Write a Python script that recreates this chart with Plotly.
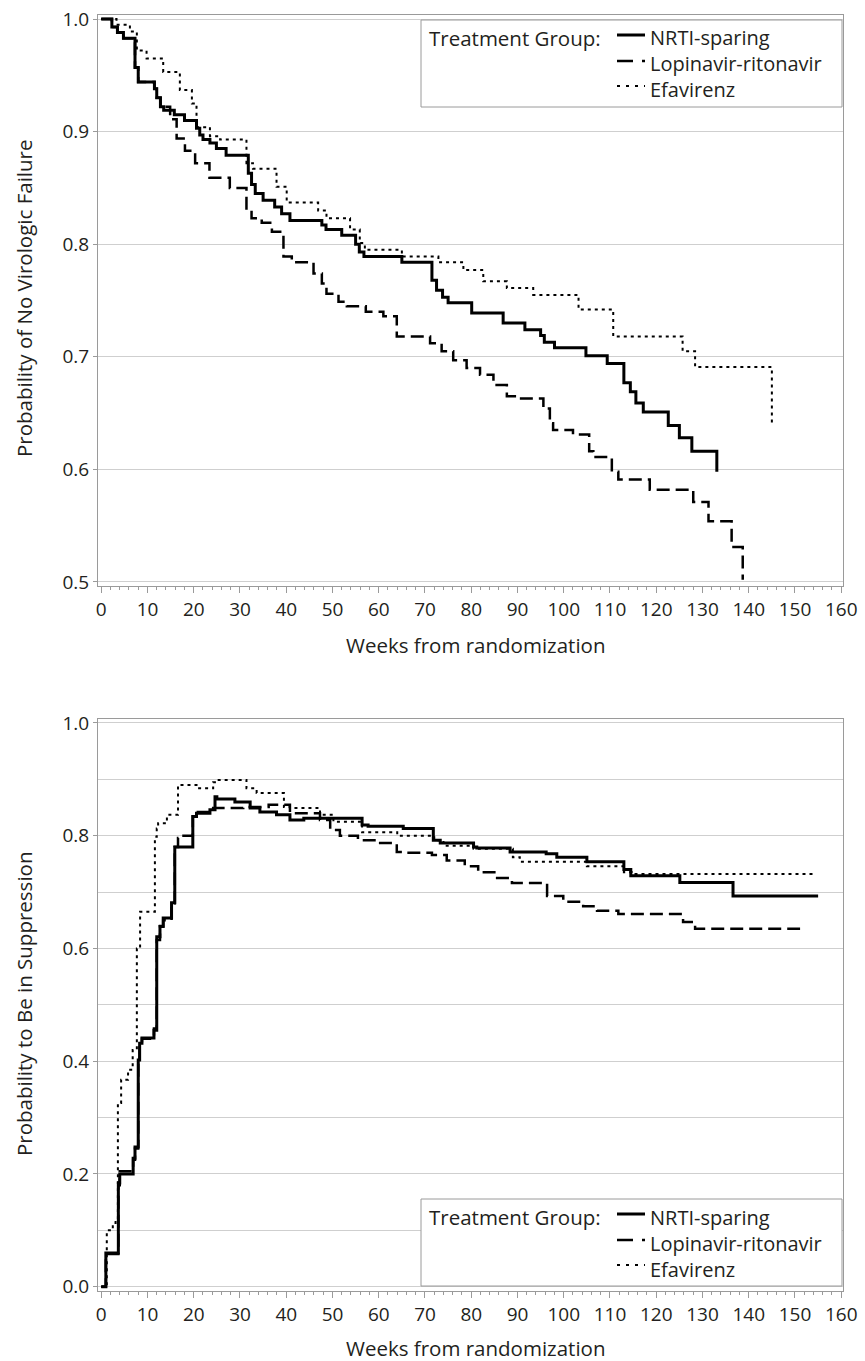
import plotly.graph_objects as go

# ---------------- Top panel: probability of no virologic failure ----------------
top_nrti_weeks = [0, 2.3, 3.5, 4.8, 7.3, 8.0, 11.5, 12.0, 12.8, 13.5, 15.8, 18.0, 20.6, 21.3, 22.0,
                  23.5, 24.9, 27.0, 31.8, 32.5, 33.3, 35.0, 37.5, 39.0, 40.8, 47.7, 48.6, 52.0,
                  55.0, 55.8, 56.8, 65.0, 71.5, 72.5, 73.8, 75.0, 80.1, 86.9, 91.6, 95.0, 95.8,
                  98.0, 104.8, 109.4, 113.0, 114.4, 115.6, 117.2, 122.6, 125.0, 127.7, 133.1]
top_nrti_prob = [1.0, 0.993, 0.988, 0.983, 0.957, 0.944, 0.938, 0.930, 0.922, 0.919, 0.915, 0.910,
                 0.903, 0.897, 0.893, 0.890, 0.885, 0.879, 0.863, 0.853, 0.845, 0.839, 0.833,
                 0.827, 0.821, 0.817, 0.813, 0.808, 0.800, 0.793, 0.789, 0.784, 0.768, 0.759,
                 0.753, 0.748, 0.739, 0.730, 0.724, 0.719, 0.713, 0.708, 0.701, 0.694, 0.677,
                 0.669, 0.659, 0.651, 0.639, 0.628, 0.616, 0.598]

top_lpv_weeks = [0, 2.3, 3.5, 4.8, 7.3, 8.0, 11.5, 12.0, 12.8, 14.9, 16.3, 18.1, 20.3, 23.4, 27.8,
                 31.4, 32.5, 34.7, 36.9, 39.4, 41.2, 45.9, 47.7, 48.7, 51.3, 53.1, 57.2, 61.0,
                 63.9, 71.1, 73.6, 76.1, 79.0, 81.9, 84.8, 87.7, 90.5, 95.6, 97.0, 97.7, 102.0,
                 105.5, 106.4, 110.4, 111.8, 118.6, 128.0, 131.3, 136.3, 138.7]
top_lpv_prob = [1.0, 0.993, 0.988, 0.983, 0.957, 0.944, 0.938, 0.930, 0.922, 0.911, 0.894, 0.883,
                0.872, 0.859, 0.850, 0.830, 0.823, 0.819, 0.811, 0.789, 0.784, 0.774, 0.765,
                0.756, 0.749, 0.745, 0.740, 0.736, 0.718, 0.712, 0.705, 0.697, 0.690, 0.684,
                0.675, 0.665, 0.663, 0.654, 0.641, 0.635, 0.631, 0.616, 0.611, 0.598, 0.591,
                0.582, 0.571, 0.554, 0.531, 0.502]

top_efv_weeks = [0, 3.3, 6.2, 7.7, 9.8, 13.4, 17.0, 19.6, 20.6, 23.5, 25.7, 31.4, 32.8, 37.9, 40.1,
                 46.9, 48.7, 53.8, 55.9, 57.0, 65.0, 72.9, 78.3, 82.6, 87.7, 93.4, 103.2, 110.7,
                 125.7, 128.4, 145.0]
top_efv_prob = [1.0, 0.995, 0.989, 0.972, 0.965, 0.953, 0.937, 0.925, 0.904, 0.896, 0.893, 0.872,
                0.867, 0.851, 0.837, 0.830, 0.823, 0.813, 0.801, 0.795, 0.789, 0.784, 0.777,
                0.767, 0.761, 0.755, 0.742, 0.718, 0.705, 0.691, 0.640]

# ---------------- Bottom panel: probability to be in suppression ----------------
bot_nrti_weeks = [0, 1.0, 3.7, 4.0, 6.9, 7.3, 8.0, 8.3, 8.8, 11.4, 12.0, 12.7, 13.4, 15.2, 15.9,
                  19.8, 20.6, 23.5, 24.6, 25.0, 28.9, 32.2, 34.3, 37.9, 40.8, 43.8, 56.4, 57.7,
                  65.3, 71.8, 73.3, 80.5, 81.2, 88.4, 96.2, 98.5, 105.0, 113.0, 114.5, 125.1,
                  136.6, 155.0]
bot_nrti_prob = [0.0, 0.060, 0.184, 0.200, 0.228, 0.248, 0.402, 0.432, 0.441, 0.455, 0.621, 0.639,
                 0.654, 0.681, 0.780, 0.834, 0.840, 0.846, 0.869, 0.865, 0.860, 0.849, 0.842,
                 0.837, 0.828, 0.831, 0.819, 0.817, 0.813, 0.792, 0.787, 0.780, 0.778, 0.771,
                 0.768, 0.762, 0.754, 0.740, 0.729, 0.717, 0.693, 0.693]

bot_lpv_weeks = [0, 1.0, 3.7, 4.0, 6.9, 7.3, 8.0, 8.3, 8.8, 11.4, 12.0, 12.7, 13.4, 15.2, 15.9,
                 16.6, 17.5, 19.8, 20.6, 24.2, 30.7, 36.2, 40.8, 47.3, 49.5, 51.6, 55.5, 59.8,
                 63.9, 65.3, 71.5, 74.7, 78.6, 81.5, 85.6, 88.8, 96.4, 99.9, 104.2, 107.2,
                 111.8, 125.8, 128.4, 151.1]
bot_lpv_prob = [0.0, 0.058, 0.180, 0.205, 0.225, 0.245, 0.400, 0.430, 0.440, 0.458, 0.615, 0.640,
                0.650, 0.680, 0.780, 0.796, 0.800, 0.834, 0.842, 0.849, 0.851, 0.855, 0.840,
                0.828, 0.810, 0.800, 0.792, 0.787, 0.771, 0.770, 0.766, 0.756, 0.746, 0.735,
                0.725, 0.716, 0.693, 0.683, 0.675, 0.667, 0.661, 0.647, 0.635, 0.635]

bot_efv_weeks = [0, 1.2, 2.5, 3.1, 3.6, 4.3, 5.8, 6.8, 7.7, 8.4, 11.6, 12.0, 12.3, 14.2, 16.6,
                 20.6, 24.2, 25.0, 31.4, 33.6, 39.5, 40.8, 47.3, 50.2, 56.4, 64.0, 72.0, 74.0,
                 80.5, 89.0, 90.5, 105.0, 113.0, 114.7, 153.9]
bot_efv_prob = [0.0, 0.100, 0.113, 0.120, 0.326, 0.367, 0.385, 0.420, 0.600, 0.665, 0.798, 0.813,
                0.822, 0.837, 0.890, 0.884, 0.895, 0.899, 0.884, 0.876, 0.851, 0.849, 0.837,
                0.825, 0.806, 0.800, 0.792, 0.782, 0.777, 0.762, 0.754, 0.746, 0.735, 0.732,
                0.732]

group_names = ["NRTI-sparing", "Lopinavir-ritonavir", "Efavirenz"]
legend_title = "Treatment Group:"
x_ticks = list(range(0, 161, 10))

FONT = "Open Sans"
INK = "#231f20"
GRID = "#cfcfcf"
AXIS = "#9a9a9a"

styles = [dict(color="black", width=3, dash="solid"),
          dict(color="black", width=2.5, dash="13px,6px"),
          dict(color="black", width=2, dash="3px,4px")]
legend_dash = ["solid", "16px,9px", "3px,6px"]

fig = go.Figure()
top_series = [(top_nrti_weeks, top_nrti_prob), (top_lpv_weeks, top_lpv_prob), (top_efv_weeks, top_efv_prob)]
bot_series = [(bot_nrti_weeks, bot_nrti_prob), (bot_lpv_weeks, bot_lpv_prob), (bot_efv_weeks, bot_efv_prob)]

for name, (wx, wy), st in zip(group_names, top_series, styles):
    fig.add_trace(go.Scatter(x=wx, y=wy, mode="lines", line=dict(shape="hv", **st), name=name,
                             xaxis="x", yaxis="y", showlegend=False))
for name, (wx, wy), st in zip(group_names, bot_series, styles):
    fig.add_trace(go.Scatter(x=wx, y=wy, mode="lines", line=dict(shape="hv", **st), name=name,
                             xaxis="x2", yaxis="y2", showlegend=False))

xcommon = dict(range=[-0.70, 160.38], tickvals=x_ticks, ticks="outside", ticklen=6, tickcolor=AXIS,
               minor=dict(dtick=2, ticks="outside", ticklen=3, tickcolor=AXIS),
               showline=True, linecolor=AXIS, linewidth=1, mirror=True, showgrid=False,
               zeroline=False, automargin=False,
               tickfont=dict(family=FONT, size=19, color=INK))
ycommon = dict(ticks="outside", ticklen=4, tickcolor=AXIS, showline=True, linecolor=AXIS,
               linewidth=1, mirror=True, showgrid=True, gridcolor=GRID, gridwidth=1,
               zeroline=False, automargin=False, tickformat=".1f",
               tickfont=dict(family=FONT, size=19, color=INK))

# page-pixel helpers (plot area spans x 98..843 and y 15..1291 on the page)
def px(x):
    return (x - 98) / 745.0

def py(y):
    return (1291 - y) / 1276.0

annotations = [
    dict(text="Probability of No Virologic Failure", x=px(24), y=py(299), textangle=-90,
         xanchor="center", yanchor="middle", font=dict(family=FONT, size=20.5, color=INK)),
    dict(text="Probability to Be in Suppression", x=px(24), y=py(1004), textangle=-90,
         xanchor="center", yanchor="middle", font=dict(family=FONT, size=20.5, color=INK)),
    dict(text="Weeks from randomization", x=px(475), y=py(645), xanchor="center", yanchor="middle",
         font=dict(family=FONT, size=20.5, color=INK)),
    dict(text="Weeks from randomization", x=px(475), y=py(1348), xanchor="center", yanchor="middle",
         font=dict(family=FONT, size=20.5, color=INK)),
]
shapes = []

# legend boxes (one per panel)
legend_boxes = [dict(top=20, bottom=107, rows=[38, 64, 89]),
                dict(top=1199, bottom=1286, rows=[1217, 1243, 1268])]
for box in legend_boxes:
    shapes.append(dict(type="rect", xref="paper", yref="paper", x0=px(421), x1=px(842),
                       y0=py(box["bottom"]), y1=py(box["top"]), line=dict(color=AXIS, width=1),
                       fillcolor="white", layer="above"))
    annotations.append(dict(text=legend_title, x=px(427), y=py(box["rows"][0]), xanchor="left",
                            yanchor="middle", font=dict(family=FONT, size=20.5, color=INK)))
    for st, dash, ry in zip(styles, legend_dash, box["rows"]):
        shapes.append(dict(type="line", xref="paper", yref="paper", x0=px(617), x1=px(645),
                           y0=py(ry - 3), y1=py(ry - 3), layer="above",
                           line=dict(color="black", width=st["width"], dash=dash)))
    annotations.append(dict(text="<br>".join(group_names), x=px(648), y=py(box["rows"][1]),
                            xanchor="left", yanchor="middle", align="left",
                            font=dict(family=FONT, size=20, color=INK)))

for a in annotations:
    a.update(xref="paper", yref="paper", showarrow=False)

fig.update_layout(
    width=865, height=1361,
    margin=dict(l=98, r=22, t=15, b=70, autoexpand=False),
    paper_bgcolor="white", plot_bgcolor="white",
    showlegend=False,
    xaxis=dict(domain=[0, 1], anchor="y", **xcommon),
    yaxis=dict(domain=[0.5525, 1], anchor="x", range=[0.4964, 1.0036], dtick=0.1, **ycommon),
    xaxis2=dict(domain=[0, 1], anchor="y2", **xcommon),
    yaxis2=dict(domain=[0, 0.4483], anchor="x2", range=[-0.0076, 1.0071], dtick=0.2,
                minor=dict(dtick=0.1, showgrid=True, gridcolor=GRID), **ycommon),
    font=dict(family=FONT, color=INK),
    annotations=annotations,
    shapes=shapes,
)

# remove the default page-body margin so the figure sits at the window's top-left corner
fig.write_html("out.html", config={"displayModeBar": False},
               post_script="document.body.style.margin='0px';")
